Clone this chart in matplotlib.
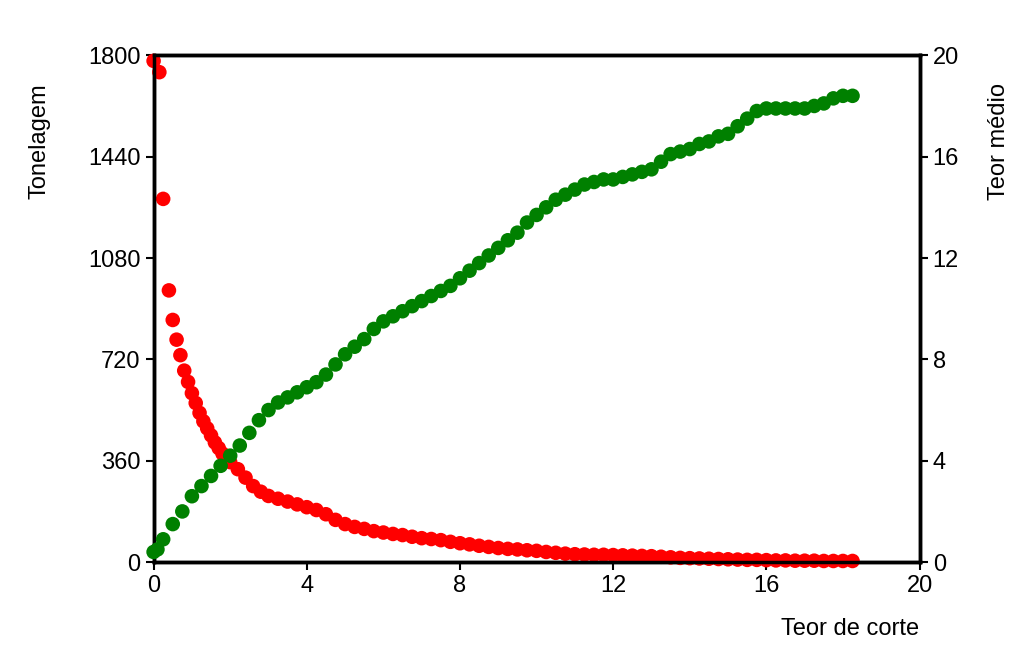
import matplotlib
matplotlib.use("Agg")
import matplotlib.pyplot as plt

plt.rcParams["font.family"] = ["Liberation Sans", "DejaVu Sans"]

# tonnage (left axis, red)
ton_x = [0, 0.15, 0.25, 0.4, 0.5, 0.6, 0.7, 0.8, 0.9, 1.0, 1.1, 1.2, 1.3, 1.4, 1.5, 1.6, 1.7, 1.8, 1.9, 2.0,
         2.2, 2.4, 2.6, 2.8, 3.0, 3.25, 3.5, 3.75, 4.0, 4.25, 4.5, 4.75, 5.0, 5.25, 5.5, 5.75, 6.0, 6.25,
         6.5, 6.75, 7.0, 7.25, 7.5, 7.75, 8.0, 8.25, 8.5, 8.75, 9.0, 9.25, 9.5, 9.75, 10.0, 10.25, 10.5,
         10.75, 11.0, 11.25, 11.5, 11.75, 12.0, 12.25, 12.5, 12.75, 13.0, 13.25, 13.5, 13.75, 14.0, 14.25,
         14.5, 14.75, 15.0, 15.25, 15.5, 15.75, 16.0, 16.25, 16.5, 16.75, 17.0, 17.25, 17.5, 17.75, 18.0, 18.25]
ton_y = [1780, 1740, 1290, 965, 860, 790, 735, 680, 640, 600, 565, 530, 500, 475, 450, 425, 405, 385, 370, 355,
         330, 300, 270, 250, 235, 225, 215, 205, 195, 185, 170, 150, 135, 125, 118, 110, 105, 100,
         96, 90, 85, 82, 78, 72, 67, 63, 58, 54, 50, 47, 45, 42, 40, 36, 33,
         30, 28, 27, 26, 26, 25, 24, 23, 22, 21, 19, 17, 15, 14, 13,
         12, 11, 10, 9, 8, 8, 7, 6, 6, 5, 5, 5, 4, 4, 4, 4]

# average grade (right axis, green)
gr_x = [0, 0.1, 0.25, 0.5, 0.75, 1.0, 1.25, 1.5, 1.75, 2.0, 2.25, 2.5, 2.75, 3.0, 3.25, 3.5, 3.75, 4.0, 4.25,
        4.5, 4.75, 5.0, 5.25, 5.5, 5.75, 6.0, 6.25, 6.5, 6.75, 7.0, 7.25, 7.5, 7.75, 8.0, 8.25, 8.5, 8.75,
        9.0, 9.25, 9.5, 9.75, 10.0, 10.25, 10.5, 10.75, 11.0, 11.25, 11.5, 11.75, 12.0, 12.25, 12.5, 12.75,
        13.0, 13.25, 13.5, 13.75, 14.0, 14.25, 14.5, 14.75, 15.0, 15.25, 15.5, 15.75, 16.0, 16.25, 16.5,
        16.75, 17.0, 17.25, 17.5, 17.75, 18.0, 18.25]
gr_y = [0.4, 0.5, 0.9, 1.5, 2.0, 2.6, 3.0, 3.4, 3.8, 4.2, 4.6, 5.1, 5.6, 6.0, 6.3, 6.5, 6.7, 6.9, 7.1,
        7.4, 7.8, 8.2, 8.5, 8.8, 9.2, 9.5, 9.7, 9.9, 10.1, 10.3, 10.5, 10.7, 10.9, 11.2, 11.5, 11.8, 12.1,
        12.4, 12.7, 13.0, 13.4, 13.7, 14.0, 14.3, 14.5, 14.7, 14.9, 15.0, 15.1, 15.1, 15.2, 15.3, 15.4,
        15.5, 15.8, 16.1, 16.2, 16.3, 16.5, 16.6, 16.8, 16.9, 17.2, 17.5, 17.8, 17.9, 17.9, 17.9,
        17.9, 17.9, 18.0, 18.1, 18.3, 18.4, 18.4]

fig = plt.figure(figsize=(10.24, 6.66), dpi=100)
ax = fig.add_axes([0.150, 0.156, 0.748, 0.761])
ax2 = ax.twinx()

ax.scatter(ton_x, ton_y, s=110, color="#ff0000", edgecolors="none", zorder=3, clip_on=False)
ax2.scatter(gr_x, gr_y, s=110, color="#008000", edgecolors="none", zorder=3, clip_on=False)

ax.set_xlim(0, 20); ax.set_ylim(0, 1800)
ax2.set_ylim(0, 20)
ax.set_xticks([0, 4, 8, 12, 16, 20])
ax.set_yticks([0, 360, 720, 1080, 1440, 1800])
ax2.set_yticks([0, 4, 8, 12, 16, 20])
for a in (ax, ax2):
    for sp in a.spines.values():
        sp.set_linewidth(2.5)
    a.tick_params(labelsize=17, width=1.5, length=6, direction="out")

ax.set_ylabel("Tonelagem", fontsize=17, labelpad=2)
ax.yaxis.set_label_coords(-0.135, 0.83)
ax2.set_ylabel("Teor médio", fontsize=17, labelpad=2)
ax2.yaxis.set_label_coords(1.09, 0.83)
ax.set_xlabel("Teor de corte", fontsize=17, labelpad=0)
ax.xaxis.set_label_coords(1.0, -0.11)
ax.xaxis.label.set_horizontalalignment("right")

fig.savefig("out.png", dpi=100)
